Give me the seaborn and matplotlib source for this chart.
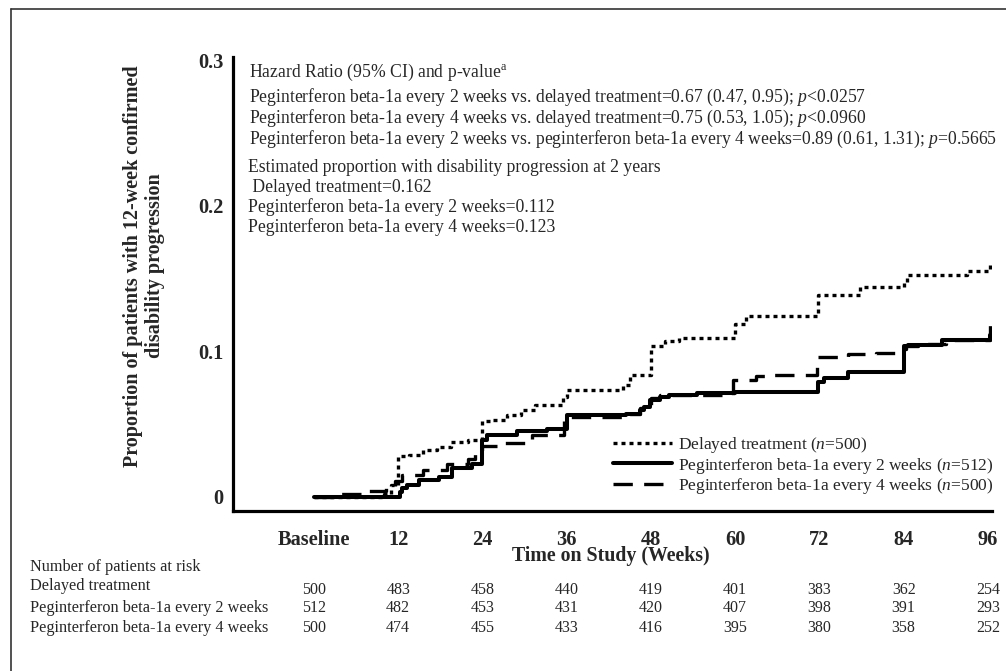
import matplotlib
matplotlib.use("Agg")
import matplotlib.pyplot as plt
import seaborn as sns
from matplotlib.lines import Line2D

# Kaplan-Meier style step data (weeks, cumulative proportion)
delayed_weeks = [0, 10, 11, 12, 13.5, 15.5, 17.5, 19.5, 22, 24, 25.5, 27.5, 29.5, 31.5,
                 35.5, 36, 44, 45, 48, 50, 52, 60, 61.5, 71.8, 77.8, 84, 84.5, 93, 96.3]
delayed_prop = [0, 0.002, 0.008, 0.028, 0.029, 0.032, 0.034, 0.038, 0.039, 0.052, 0.053, 0.056,
                0.060, 0.063, 0.069, 0.0735, 0.077, 0.084, 0.104, 0.107, 0.109, 0.119, 0.124,
                0.139, 0.144, 0.148, 0.1525, 0.155, 0.162]

q2w_weeks = [0, 12.2, 12.6, 13.2, 15, 17.8, 19.7, 22.5, 24, 24.6, 28.9, 33.2, 36, 44.5, 46.4,
             47, 47.9, 49.3, 50.5, 54.5, 60, 71.8, 72.6, 76, 84, 84.6, 89.5, 96.3]
q2w_prop = [0, 0.0037, 0.006, 0.008, 0.0117, 0.014, 0.020, 0.023, 0.039, 0.0426, 0.045, 0.047,
            0.0563, 0.057, 0.0595, 0.062, 0.0666, 0.069, 0.070, 0.0712, 0.0724, 0.079, 0.0815,
            0.0859, 0.104, 0.1047, 0.1078, 0.111]

q4w_weeks = [0, 3.7, 7, 10.3, 11.5, 12.5, 15.5, 19, 22, 23, 24, 27, 31, 35.6, 44.5, 46.4, 48,
             49.3, 59.7, 63, 65, 71.6, 76, 80, 83.5, 84.3, 86, 90, 96.3]
q4w_prop = [0, 0.002, 0.004, 0.007, 0.011, 0.015, 0.0183, 0.0229, 0.026, 0.031, 0.035, 0.037,
            0.0426, 0.055, 0.057, 0.061, 0.068, 0.070, 0.0804, 0.083, 0.084, 0.096, 0.098,
            0.099, 0.1014, 0.104, 0.105, 0.108, 0.123]

tick_weeks = [0, 12, 24, 36, 48, 60, 72, 84, 96]
tick_labels = ["Baseline", "12", "24", "36", "48", "60", "72", "84", "96"]

risk_rows = ["Delayed treatment",
             "Peginterferon beta-1a every 2 weeks",
             "Peginterferon beta-1a every 4 weeks"]
risk_delayed = [500, 483, 458, 440, 419, 401, 383, 362, 254]
risk_q2w = [512, 482, 453, 431, 420, 407, 398, 391, 293]
risk_q4w = [500, 474, 455, 433, 416, 395, 380, 358, 252]

hr_lines = [
    r"Hazard Ratio (95% CI) and p-value$^{\mathrm{a}}$",
    r"Peginterferon beta-1a every 2 weeks vs. delayed treatment=0.67 (0.47, 0.95); $\mathit{p}$<0.0257",
    r"Peginterferon beta-1a every 4 weeks vs. delayed treatment=0.75 (0.53, 1.05); $\mathit{p}$<0.0960",
    r"Peginterferon beta-1a every 2 weeks vs. peginterferon beta-1a every 4 weeks=0.89 (0.61, 1.31); $\mathit{p}$=0.5665",
]
est_lines = [
    "Estimated proportion with disability progression at 2 years",
    " Delayed treatment=0.162",
    "Peginterferon beta-1a every 2 weeks=0.112",
    "Peginterferon beta-1a every 4 weeks=0.123",
]

sns.set_theme(style="white")
plt.rcParams['font.family'] = ['Liberation Serif', 'DejaVu Serif']
plt.rcParams['mathtext.fontset'] = 'custom'
plt.rcParams['mathtext.rm'] = 'Liberation Serif'
plt.rcParams['mathtext.it'] = 'Liberation Serif:italic'
plt.rcParams['mathtext.bf'] = 'Liberation Serif:bold'

W, H = 1006, 671
fig = plt.figure(figsize=(W / 100, H / 100), dpi=100)
fig.patch.set_facecolor("white")


def fx(px):
    return px / W


def fy(py):
    return 1 - py / H


# axes placed in pixel terms: week 0 at x=314, 7.02 px/week; v=0 at y=497, 1456 px/unit
ax = fig.add_axes([fx(233), fy(511), (992 - 233) / W, (511 - 57) / H])
ax.set_xlim((233 - 314) / 7.02, (992 - 314) / 7.02)
ax.set_ylim((497 - 511) / 1456, (497 - 57) / 1456)

lw = 2.4
dotted = (0, (1.2, 1.2))
dashed = (0, (5.8, 3.4))
sns.lineplot(x=delayed_weeks, y=delayed_prop, ax=ax, color="black", lw=lw,
             drawstyle="steps-post", estimator=None, sort=False,
             linestyle=dotted, dash_capstyle="butt")
sns.lineplot(x=q2w_weeks, y=q2w_prop, ax=ax, color="black", lw=lw + 0.5,
             drawstyle="steps-post", estimator=None, sort=False)
sns.lineplot(x=q4w_weeks, y=q4w_prop, ax=ax, color="black", lw=lw,
             drawstyle="steps-post", estimator=None, sort=False,
             linestyle=dashed, dash_capstyle="butt")

for s in ["top", "right"]:
    ax.spines[s].set_visible(False)
for s in ["left", "bottom"]:
    ax.spines[s].set_linewidth(2.3)
    ax.spines[s].set_color("black")

ax.set_xticks(tick_weeks, labels=tick_labels)
ax.set_yticks([0, 0.1, 0.2, 0.3], labels=["0", "0.1", "0.2", "0.3"])
ax.tick_params(axis="both", direction="out", length=5, width=2.3, color="black",
               labelsize=14.7, pad=2)
ax.tick_params(axis="x", pad=9)
for t in ax.get_xticklabels() + ax.get_yticklabels():
    t.set_fontweight("bold")
ax.set_xlabel("")
ax.set_ylabel("")
ax.grid(False)

fig.text(fx(611), fy(556), "Time on Study (Weeks)", ha="center", va="center",
         fontsize=14.3, fontweight="bold")
fig.text(fx(144), fy(266), "Proportion of patients with 12-week confirmed\ndisability progression",
         rotation=90, ha="center", va="center", multialignment="center",
         fontsize=14.5, fontweight="bold", linespacing=1.1)

# legend
handles = [
    Line2D([], [], color="black", lw=lw, linestyle=dotted, dash_capstyle="butt"),
    Line2D([], [], color="black", lw=lw + 0.5),
    Line2D([], [], color="black", lw=lw, linestyle=dashed, dash_capstyle="butt"),
]
labels = [r"Delayed treatment ($\mathit{n}$=500)",
          r"Peginterferon beta-1a every 2 weeks ($\mathit{n}$=512)",
          r"Peginterferon beta-1a every 4 weeks ($\mathit{n}$=500)"]
ax.legend(handles, labels, loc="upper left", bbox_to_anchor=(fx(604), fy(426)),
          bbox_transform=fig.transFigure, frameon=False, fontsize=12.5,
          handlelength=3.4, handletextpad=0.35, labelspacing=0.05, borderpad=0)

# hazard ratio and estimates text
hr_y = [72, 97, 118, 139]
for txt, py in zip(hr_lines, hr_y):
    fig.text(fx(249), fy(py), txt, ha="left", va="center", fontsize=12.7)
est_y = [167, 187, 207, 227]
for txt, py in zip(est_lines, est_y):
    fig.text(fx(248), fy(py), txt, ha="left", va="center", fontsize=12.7)

# number at risk table
fig.text(fx(30), fy(567), "Number of patients at risk", ha="left", va="center", fontsize=11.7)
label_y = [586, 608, 628]
num_y = [590, 608, 628]
for name, counts, ly, ny in zip(risk_rows, [risk_delayed, risk_q2w, risk_q4w], label_y, num_y):
    fig.text(fx(30), fy(ly), name, ha="left", va="center", fontsize=11.7)
    for wk, c in zip(tick_weeks, counts):
        fig.text(fx(314 + 7.02 * wk), fy(ny), str(c), ha="center", va="center", fontsize=11.5)

# outer frame (cut at right and bottom)
fig.add_artist(Line2D([fx(11), 1.0], [fy(9), fy(9)], color="#333333", lw=1.2,
                      transform=fig.transFigure))
fig.add_artist(Line2D([fx(11), fx(11)], [fy(9), 0.0], color="#333333", lw=1.2,
                      transform=fig.transFigure))

fig.savefig("out.png", dpi=100, facecolor="white")
